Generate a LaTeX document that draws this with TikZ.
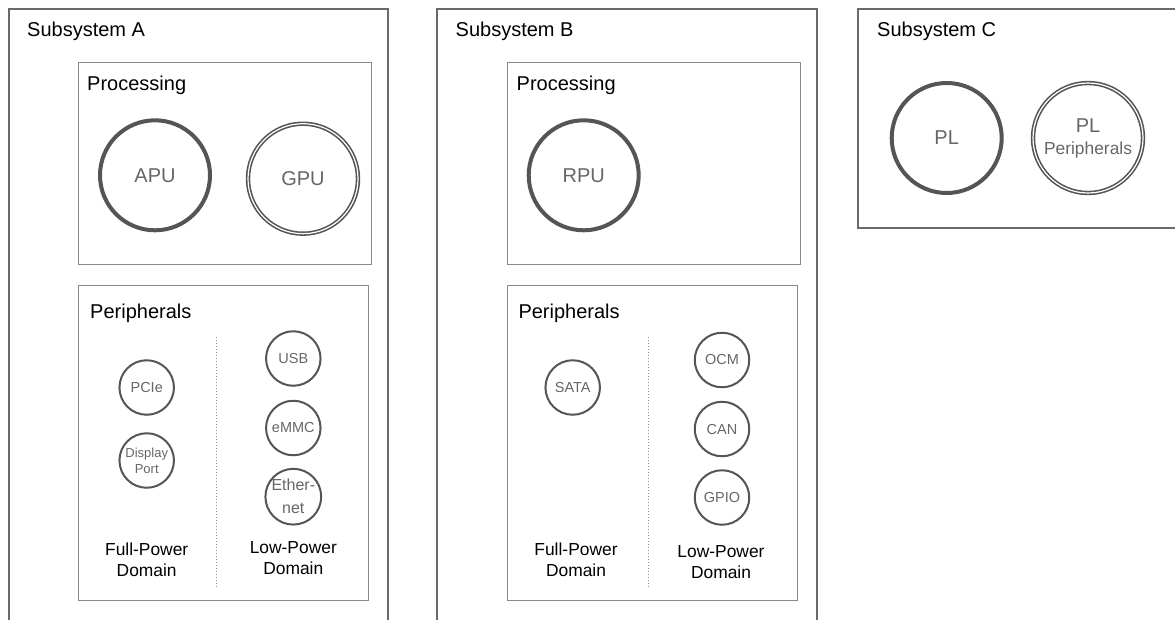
\documentclass[tikz,border=0pt]{standalone}
\usepackage{fontspec}
\setmainfont{Liberation Sans}
\usetikzlibrary{positioning}
\definecolor{frameline}{HTML}{6A6A6A}
\definecolor{panelline}{HTML}{8A8A8A}
\definecolor{ringline}{HTML}{555555}
\definecolor{ringtext}{HTML}{666666}

\begin{document}
\begin{tikzpicture}[x=1pt,y=-1pt,
  outerbox/.style={draw=frameline, line width=2pt},
  panelbox/.style={draw=panelline, line width=1pt},
  bigunit/.style={circle, draw=ringline, line width=4pt, minimum size=110pt, inner sep=0pt,
    text=ringtext, align=center, font=\fontsize{20}{23}\selectfont},
  dblunit/.style={bigunit, line width=1.6pt, double, double distance=1.2pt},
  ioring/.style={circle, draw=ringline, line width=2pt, minimum size=54.5pt, inner sep=0pt,
    text=ringtext, align=center, font=\fontsize{14.5}{17}\selectfont},
  boxtitle/.style={anchor=base west, inner sep=0pt, font=\fontsize{20}{24}\selectfont},
  domlabel/.style={align=center, inner sep=0pt, font=\fontsize{17.4}{21}\selectfont}
]
\useasboundingbox (0,0) rectangle (1175,619);
\clip (0,0) rectangle (1175,619);
% Subsystem frames (open at the page edges)
\draw[outerbox] (9,9) rectangle (388,660);
\draw[outerbox] (437,9) rectangle (817,660);
\draw[outerbox] (858,9) rectangle (1200,228);
\node[boxtitle] (tA) at (27,36.7) {Subsystem A};
\node[boxtitle] (tB) at (455.5,36.7) {Subsystem B};
\node[boxtitle] (tC) at (877,36.7) {Subsystem C};
% Processing and peripheral panels
\draw[panelbox] (78,62) rectangle (371,264);
\draw[panelbox] (78,285.5) rectangle (368,600.5);
\draw[panelbox] (507,62) rectangle (800,264);
\draw[panelbox] (507,285.5) rectangle (797,600.5);
\node[boxtitle] (pA) at (87,90.7) {Processing};
\node[boxtitle] (qA) at (90,318.3) {Peripherals};
\node[boxtitle] (pB) at (516.5,90.7) {Processing};
\node[boxtitle] (qB) at (518.3,318.3) {Peripherals};
% Processing units
\node[bigunit] (apu) at (155,175.3) {APU};
\node[dblunit] (gpu) at (303,178.7) {GPU};
\node[bigunit] (rpu) at (583.7,175.3) {RPU};
\node[bigunit] (pl) at (946.7,138) {PL};
\node[dblunit] (plp) at (1088,138) {{\fontsize{20}{23}\selectfont PL}\\[-1pt]{\fontsize{17.4}{21}\selectfont Peripherals}};
% Peripheral rings, full-power side
\node[ioring] (pcie) at (146.7,387.5) {PCIe};
\node[ioring, font=\fontsize{13}{16}\selectfont] (dport) at (146.7,460.5) {Display\\Port};
\node[ioring] (sata) at (572.7,387.5) {SATA};
% Peripheral rings, low-power side
\foreach \nm/\xx/\yy/\txt in {usb/293.3/358.5/USB, emmc/293.3/428/eMMC, ocm/722/360/OCM, can/722/429/CAN, gpio/722/497.5/GPIO} {
  \node[ioring] (\nm) at (\xx,\yy) {\txt};
}
\node[ioring, font=\fontsize{16}{23}\selectfont] (eth) at (293.3,496.7) {Ether-\\net};
% Domain split lines
\coordinate (dA1) at (216.7,337); \coordinate (dA2) at (216.7,588);
\coordinate (dB1) at (648.3,337); \coordinate (dB2) at (648.3,588);
\draw[panelline, line width=1pt, dotted] (dA1) -- (dA2);
\draw[panelline, line width=1pt, dotted] (dB1) -- (dB2);
% Domain captions
\node[domlabel] (fA) at (146.7,560) {Full-Power\\Domain};
\node[domlabel] (lA) at (293.3,558.5) {Low-Power\\Domain};
\node[domlabel] (fB) at (576,559.5) {Full-Power\\Domain};
\node[domlabel] (lB) at (721,562) {Low-Power\\Domain};
\end{tikzpicture}
\end{document}
